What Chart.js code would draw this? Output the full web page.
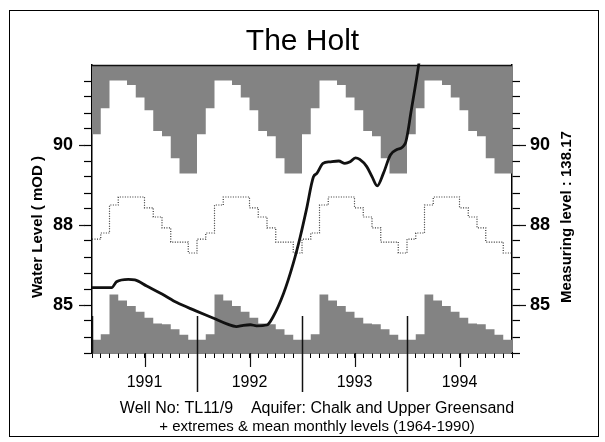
<!DOCTYPE html>
<html>
<head>
<meta charset="utf-8">
<title>The Holt</title>
<script src="https://cdn.jsdelivr.net/npm/chart.js@4.4.1/dist/chart.umd.min.js"></script>
<style>
  html, body { margin: 0; padding: 0; background: #fff; }
  #wrap { position: relative; width: 605px; height: 442px; }
</style>
</head>
<body>
<div id="wrap"><canvas id="holt" width="605" height="442"></canvas></div>
<script>
// long term monthly statistics 1964-1990 (mOD), Jan..Dec
var monthMax  = [90.27, 90.92, 91.61, 91.61, 91.50, 91.19, 90.87, 90.35, 90.22, 89.67, 89.29, 89.29];
var monthMean = [87.47, 87.70, 88.50, 88.70, 88.70, 88.70, 88.43, 88.20, 87.89, 87.36, 87.36, 86.95];
var monthMin  = [83.70, 83.90, 85.39, 85.17, 84.96, 84.75, 84.52, 84.31, 84.28, 84.09, 83.88, 83.70];

var years = ["1991", "1992", "1993", "1994"];

// observed water level, month counted from Jan 1991
var obsMonth = [0, 2.25, 2.8, 4.15, 4.9, 6.25, 8.0, 9.7, 11.8, 13.9, 15.4, 16.5, 17.3, 18.1, 18.8, 20.0,
                20.7, 21.9, 23.0, 23.8, 24.5, 25.3, 25.7, 26.4, 27.2, 28.2, 28.9, 29.5, 30.1, 30.6,
                31.4, 32.0, 32.6, 33.3, 34.1, 34.8, 35.8, 36.5, 37.1, 37.4];
var obsLevel = [85.65, 85.65, 85.87, 85.96, 85.94, 85.71, 85.41, 85.09, 84.79, 84.50, 84.29, 84.19, 84.24, 84.26, 84.22, 84.25,
                84.56, 85.44, 86.56, 87.56, 88.38, 89.20, 89.29, 89.54, 89.58, 89.60, 89.54, 89.58, 89.68, 89.64,
                89.46, 89.21, 88.98, 89.29, 89.75, 89.88, 90.04, 90.88, 91.67, 92.10];

// y axis: ticks and the labelled ones
var yTicks = [83.2, 83.8, 84.4, 85, 85.6, 86.2, 86.8, 87.4, 88, 88.4, 88.8, 89.2, 89.6, 90, 90.4, 90.8, 91.2, 91.6];
var yLabels = [85, 88, 90];

// the axis is stretched above 88 mOD
var Y_MIN = 83.2, Y_BREAK = 88, Y_MAX = 92, LOW_STEP = 0.6, HIGH_STEP = 0.4;
var LOW_UNITS = (Y_BREAK - Y_MIN) / LOW_STEP;
var Y_UNITS = LOW_UNITS + (Y_MAX - Y_BREAK) / HIGH_STEP;

var FONT = "'Liberation Sans', Arial, Helvetica, sans-serif";
var SHADE = '#838383';

function levelToFrac(v) {
  var u = v <= Y_BREAK ? (v - Y_MIN) / LOW_STEP : LOW_UNITS + (v - Y_BREAK) / HIGH_STEP;
  return u / Y_UNITS;
}
function fracToLevel(f) {
  var u = f * Y_UNITS;
  return u <= LOW_UNITS ? Y_MIN + u * LOW_STEP : Y_BREAK + (u - LOW_UNITS) * HIGH_STEP;
}

class WellScale extends Chart.LinearScale {
  determineDataLimits() { this.min = Y_MIN; this.max = Y_MAX; }
  buildTicks() { return yTicks.map(function(v) { return { value: v }; }); }
  getPixelForValue(v) {
    if (v === null || v === undefined) return NaN;
    return this.getPixelForDecimal(levelToFrac(v));
  }
  getValueForPixel(p) { return fracToLevel(this.getDecimalForPixel(p)); }
}
WellScale.id = 'well';
WellScale.defaults = Chart.LinearScale.defaults;
Chart.register(WellScale);

function monthSteps(arr) {
  var pts = [];
  for (var y = 0; y < years.length; y++) {
    for (var m = 0; m < 12; m++) pts.push({ x: y * 12 + m, y: arr[m] });
  }
  pts.push({ x: years.length * 12, y: arr[11] });
  return pts;
}

var obsPoints = obsMonth.map(function(m, i) { return { x: m, y: obsLevel[i] }; });

function yTickLabel(v) {
  for (var i = 0; i < yLabels.length; i++) {
    if (Math.abs(v - yLabels[i]) < 0.01) return String(yLabels[i]);
  }
  return '';
}

var decor = {
  id: 'decor',
  beforeDraw: function(chart) {
    var c = chart.ctx;
    c.save();
    c.fillStyle = '#fff';
    c.fillRect(0, 0, chart.width, chart.height);
    c.strokeStyle = '#000';
    c.lineWidth = 1;
    c.strokeRect(9.5, 10.5, 589, 426);
    c.restore();
  },
  afterDatasetsDraw: function(chart) {
    var c = chart.ctx, a = chart.chartArea, xs = chart.scales.x;
    c.save();
    c.strokeStyle = '#111';
    // top edge of the plot
    c.lineWidth = 1.5;
    c.beginPath();
    c.moveTo(a.left, a.top + 0.5);
    c.lineTo(a.right, a.top + 0.5);
    c.stroke();
    // year dividers
    for (var k = 0; k <= years.length - 1; k++) {
      var px = Math.round(xs.getPixelForValue(k * 12)) + 0.5;
      c.beginPath();
      c.moveTo(px, a.bottom - 37);
      c.lineTo(px, k === 0 ? a.bottom : a.bottom + 39);
      c.stroke();
    }
    // mid year ticks
    c.lineWidth = 1.2;
    for (var j = 0; j < years.length; j++) {
      var mx = Math.round(xs.getPixelForValue(j * 12 + 6)) + 0.5;
      c.beginPath();
      c.moveTo(mx, a.bottom);
      c.lineTo(mx, a.bottom + 14);
      c.stroke();
    }
    // longer labelled y ticks
    ['y', 'y2'].forEach(function(id) {
      var s = chart.scales[id];
      yLabels.forEach(function(v) {
        var py = Math.round(s.getPixelForValue(v)) + 0.5;
        c.beginPath();
        if (id === 'y') { c.moveTo(a.left - 13, py); c.lineTo(a.left - 7, py); }
        else { c.moveTo(a.right + 7, py); c.lineTo(a.right + 14, py); }
        c.stroke();
      });
    });
    c.restore();
  },
  afterDraw: function(chart) {
    var c = chart.ctx;
    c.save();
    c.fillStyle = '#000';
    c.textAlign = 'center';
    c.textBaseline = 'middle';
    c.font = 'bold 15px ' + FONT;
    c.translate(38, 227);
    c.rotate(-Math.PI / 2);
    c.fillText('Water Level ( mOD )', 0, 0);
    c.restore();

    c.save();
    c.fillStyle = '#000';
    c.textAlign = 'center';
    c.textBaseline = 'middle';
    c.font = 'bold 15px ' + FONT;
    c.translate(567, 217);
    c.rotate(-Math.PI / 2);
    c.fillText('Measuring level : 138.17', 0, 0);
    c.restore();

    c.save();
    c.fillStyle = '#000';
    c.textAlign = 'center';
    c.textBaseline = 'alphabetic';
    c.font = '16px ' + FONT;
    c.fillText('Well No: TL11/9    Aquifer: Chalk and Upper Greensand', 317, 413);
    c.font = '15px ' + FONT;
    c.fillText('+ extremes & mean monthly levels (1964-1990)', 317, 431);
    c.restore();
  }
};

new Chart(document.getElementById('holt'), {
  type: 'line',
  data: {
    datasets: [
      {
        label: 'Water level',
        data: obsPoints,
        borderColor: '#111',
        borderWidth: 2.8,
        pointRadius: 0,
        cubicInterpolationMode: 'monotone',
        fill: false
      },
      {
        label: 'Mean',
        data: monthSteps(monthMean),
        stepped: true,
        borderColor: '#333',
        borderWidth: 1.2,
        borderDash: [1, 1.5],
        pointRadius: 0,
        fill: false
      },
      {
        label: 'Maximum',
        data: monthSteps(monthMax),
        stepped: true,
        borderWidth: 0,
        borderColor: 'rgba(0,0,0,0)',
        backgroundColor: SHADE,
        pointRadius: 0,
        fill: 'end'
      },
      {
        label: 'Minimum',
        data: monthSteps(monthMin),
        stepped: true,
        borderWidth: 0,
        borderColor: 'rgba(0,0,0,0)',
        backgroundColor: SHADE,
        pointRadius: 0,
        fill: 'start'
      }
    ]
  },
  options: {
    responsive: false,
    animation: false,
    events: [],
    layout: { padding: 0 },
    plugins: {
      legend: { display: false },
      tooltip: { enabled: false },
      title: {
        display: true,
        text: 'The Holt',
        color: '#000',
        font: { family: FONT, size: 30, weight: 'normal' },
        padding: { top: 24, bottom: 5 }
      }
    },
    scales: {
      x: {
        type: 'linear',
        min: 0,
        max: 48,
        afterBuildTicks: function(scale) {
          var t = [];
          for (var m = 0; m <= 48; m++) t.push({ value: m });
          scale.ticks = t;
        },
        afterFit: function(scale) { scale.height = 89; },
        border: { display: true, color: '#000', width: 1.5 },
        grid: { drawOnChartArea: false, drawTicks: true, tickLength: 5, color: '#000', tickColor: '#000', tickWidth: 1 },
        ticks: {
          autoSkip: false,
          maxRotation: 0,
          padding: 15,
          color: '#000',
          font: { family: FONT, size: 16 },
          callback: function(v) { return v % 12 === 6 ? years[(v - 6) / 12] : ''; }
        }
      },
      y: {
        type: 'well',
        position: 'left',
        afterFit: function(scale) { scale.width = 92; },
        border: { display: true, color: '#000', width: 1.5 },
        grid: { drawOnChartArea: false, drawTicks: true, tickLength: 8, color: '#000', tickColor: '#000', tickWidth: 1.2 },
        ticks: {
          autoSkip: false,
          padding: 11,
          color: '#000',
          font: { family: FONT, size: 18, weight: 'bold' },
          callback: yTickLabel
        }
      },
      y2: {
        type: 'well',
        position: 'right',
        afterFit: function(scale) { scale.width = 93; },
        border: { display: true, color: '#000', width: 1.5 },
        grid: { drawOnChartArea: false, drawTicks: true, tickLength: 8, color: '#000', tickColor: '#000', tickWidth: 1.2 },
        ticks: {
          autoSkip: false,
          padding: 10,
          color: '#000',
          font: { family: FONT, size: 18, weight: 'bold' },
          callback: yTickLabel
        }
      }
    }
  },
  plugins: [decor]
});
</script>
</body>
</html>
